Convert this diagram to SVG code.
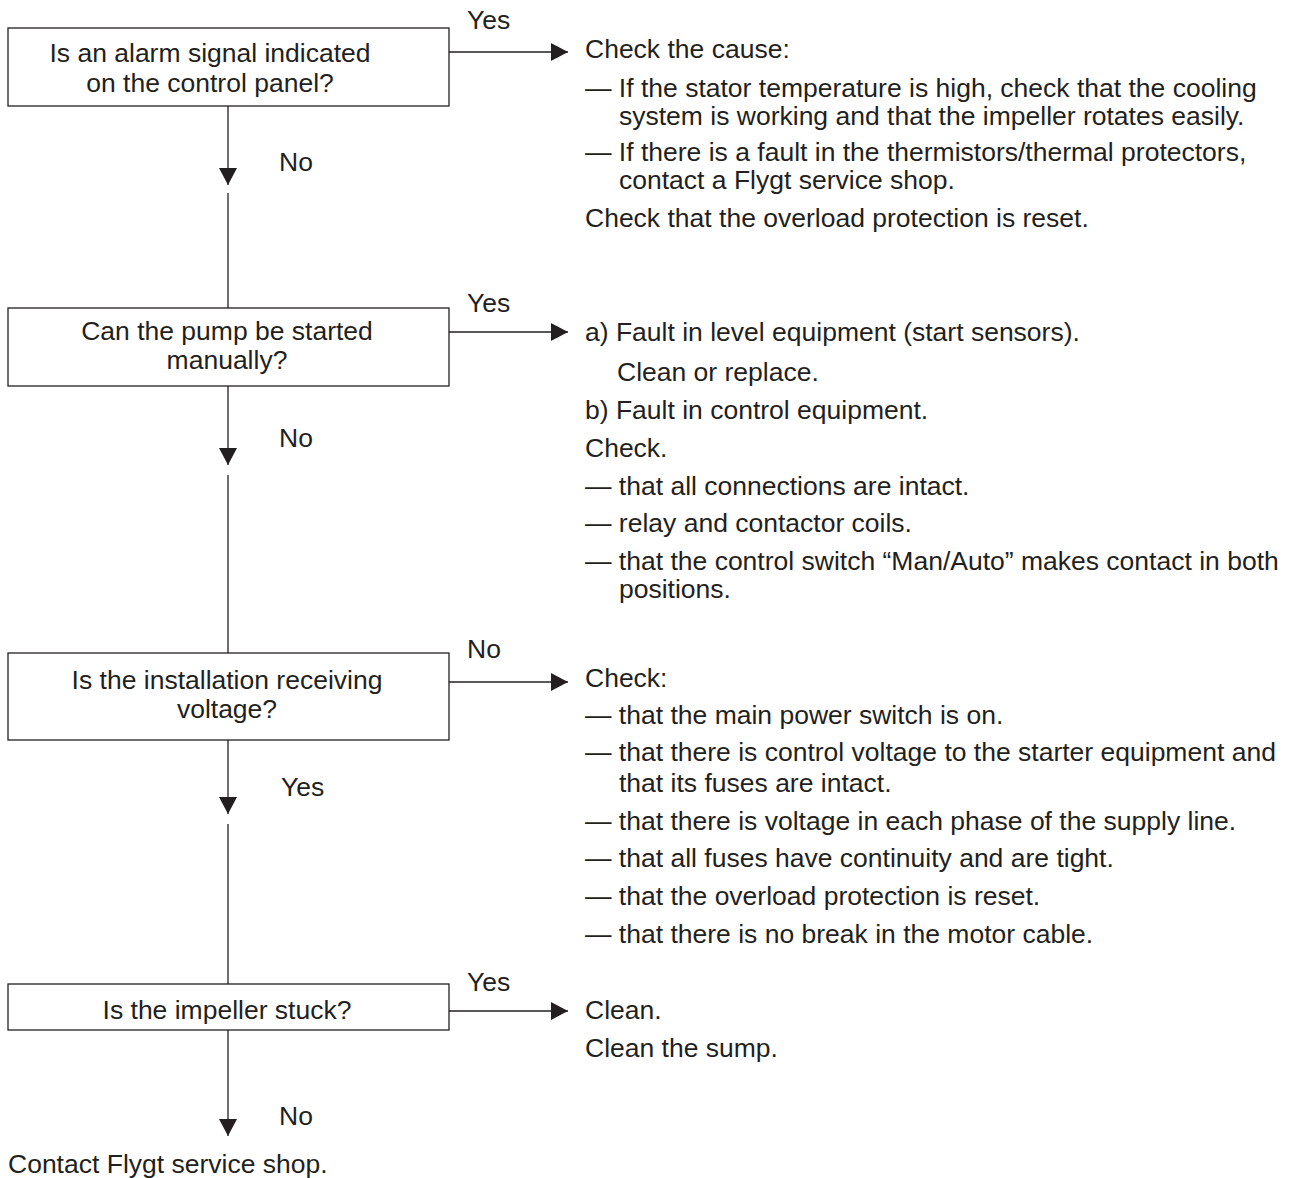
<svg xmlns="http://www.w3.org/2000/svg" width="1295" height="1178" viewBox="0 0 1295 1178">
<style>
  text { font-family: "Liberation Sans", Arial, sans-serif; font-size: 26.5px; fill: #231f20; }
  .box { fill: #ffffff; stroke: #231f20; stroke-width: 1.3; }
  .c { text-anchor: middle; }
  .ln { stroke: #231f20; stroke-width: 1.3; fill: none; }
</style>
<defs>
  <marker id="ah" viewBox="0 0 17 18" refX="17" refY="9" markerWidth="17" markerHeight="18" markerUnits="userSpaceOnUse" orient="auto">
    <path d="M0,0 L17,9 L0,18 z" fill="#231f20"/>
  </marker>
</defs>
<rect width="1295" height="1178" fill="#ffffff"/>

<g id="connectors">
  <line class="ln" x1="449" y1="52" x2="568" y2="52" marker-end="url(#ah)"/>
  <line class="ln" x1="228" y1="106" x2="228" y2="185" marker-end="url(#ah)"/>
  <line class="ln" x1="228" y1="193" x2="228" y2="308"/>
  <line class="ln" x1="449" y1="332" x2="568" y2="332" marker-end="url(#ah)"/>
  <line class="ln" x1="228" y1="386" x2="228" y2="465" marker-end="url(#ah)"/>
  <line class="ln" x1="228" y1="475" x2="228" y2="653"/>
  <line class="ln" x1="449" y1="682" x2="568" y2="682" marker-end="url(#ah)"/>
  <line class="ln" x1="228" y1="740" x2="228" y2="814" marker-end="url(#ah)"/>
  <line class="ln" x1="228" y1="824" x2="228" y2="984"/>
  <line class="ln" x1="449" y1="1011" x2="568" y2="1011" marker-end="url(#ah)"/>
  <line class="ln" x1="228" y1="1030" x2="228" y2="1136" marker-end="url(#ah)"/>
  <text x="467" y="29">Yes</text>
  <text x="279" y="171">No</text>
  <text x="467" y="312">Yes</text>
  <text x="279" y="447">No</text>
  <text x="467" y="658">No</text>
  <text x="281" y="796">Yes</text>
  <text x="467" y="991">Yes</text>
  <text x="279" y="1125">No</text>
</g>

<g id="q1">
  <rect class="box" x="8" y="28" width="441" height="78"/>
  <text class="c" x="210" y="62">Is an alarm signal indicated</text>
  <text class="c" x="210" y="92">on the control panel?</text>
</g>

<g id="a1">
  <text x="585" y="58">Check the cause:</text>
  <text x="585" y="97">— If the stator temperature is high, check that the cooling</text>
  <text x="619" y="125">system is working and that the impeller rotates easily.</text>
  <text x="585" y="161">— If there is a fault in the thermistors/thermal protectors,</text>
  <text x="619" y="189">contact a Flygt service shop.</text>
  <text x="585" y="227">Check that the overload protection is reset.</text>
</g>

<g id="q2">
  <rect class="box" x="8" y="308" width="441" height="78"/>
  <text class="c" x="227" y="340">Can the pump be started</text>
  <text class="c" x="227" y="369">manually?</text>
</g>

<g id="a2">
  <text x="585" y="341">a) Fault in level equipment (start sensors).</text>
  <text x="617" y="381">Clean or replace.</text>
  <text x="585" y="419">b) Fault in control equipment.</text>
  <text x="585" y="457">Check.</text>
  <text x="585" y="495">— that all connections are intact.</text>
  <text x="585" y="532">— relay and contactor coils.</text>
  <text x="585" y="570">— that the control switch “Man/Auto” makes contact in both</text>
  <text x="619" y="598">positions.</text>
</g>

<g id="q3">
  <rect class="box" x="8" y="653" width="441" height="87"/>
  <text class="c" x="227" y="689">Is the installation receiving</text>
  <text class="c" x="227" y="718">voltage?</text>
</g>

<g id="a3">
  <text x="585" y="687">Check:</text>
  <text x="585" y="724">— that the main power switch is on.</text>
  <text x="585" y="761">— that there is control voltage to the starter equipment and</text>
  <text x="619" y="792">that its fuses are intact.</text>
  <text x="585" y="830">— that there is voltage in each phase of the supply line.</text>
  <text x="585" y="867">— that all fuses have continuity and are tight.</text>
  <text x="585" y="905">— that the overload protection is reset.</text>
  <text x="585" y="943">— that there is no break in the motor cable.</text>
</g>

<g id="q4">
  <rect class="box" x="8" y="984" width="441" height="46"/>
  <text class="c" x="227" y="1019">Is the impeller stuck?</text>
</g>

<g id="a4">
  <text x="585" y="1019">Clean.</text>
  <text x="585" y="1057">Clean the sump.</text>
</g>

<g id="end">
  <text x="8" y="1173">Contact Flygt service shop.</text>
</g>
</svg>
